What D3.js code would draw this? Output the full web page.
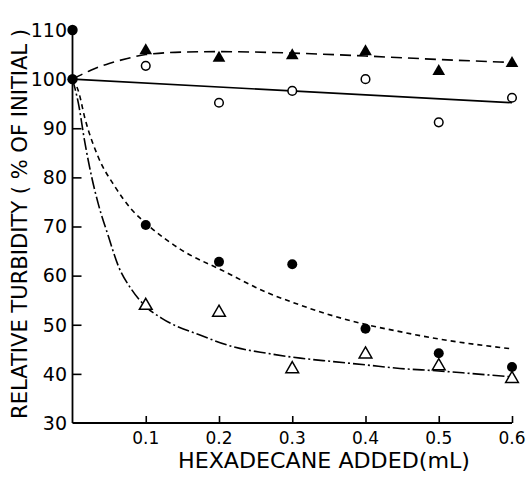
<!DOCTYPE html>
<html>
<head>
<meta charset="utf-8">
<script src="https://cdn.jsdelivr.net/npm/d3@7"></script>
<style>
  body { margin: 0; background: #fff; }
  text { font-family: "DejaVu Sans", sans-serif; fill: #000; }
</style>
</head>
<body>
<svg id="chart" width="527" height="477"></svg>
<script>
// data
const xTicks = [0.1, 0.2, 0.3, 0.4, 0.5, 0.6]
const yTicks = [30, 40, 50, 60, 70, 80, 90, 100, 110]
const hexX = [0.1, 0.2, 0.3, 0.4, 0.5, 0.6]

const filledTriangles = [105.8, 104.3, 104.8, 105.6, 101.6, 103.2]
const openCircles = [102.7, 95.2, 97.6, 100.0, 91.2, 96.2]
const filledCircles = [70.3, 62.8, 62.3, 49.2, 44.2, 41.4]
const openTriangles = [53.9, 52.5, 41.0, 44.0, 41.6, 39.0]
// points at zero addition
const zeroX = [0, 0]
const zeroCircles = [110, 100]

// fitted curves (drawn lines)
const upperCurveX = [0, 0.025, 0.05, 0.075, 0.1, 0.15, 0.2, 0.3, 0.4, 0.5, 0.6]
const upperCurveY = [100, 101.8, 103.2, 104.2, 105.0, 105.5, 105.6, 105.3, 104.7, 104.0, 103.4]
const straightX = [0, 0.6]
const straightY = [100, 95.2]
const shortDashX = [0, 0.008, 0.017, 0.035, 0.058, 0.081, 0.103, 0.149, 0.204, 0.265, 0.311, 0.356, 0.402, 0.447, 0.5, 0.55, 0.6]
const shortDashY = [100, 97.6, 92.0, 84.2, 78.1, 73.4, 70.3, 65.2, 61.1, 56.6, 54.0, 51.8, 50.0, 48.6, 47.1, 46.0, 45.1]
const dashDotX = [0, 0.008, 0.017, 0.026, 0.035, 0.049, 0.063, 0.081, 0.1, 0.122, 0.174, 0.22, 0.265, 0.311, 0.356, 0.402, 0.447, 0.5, 0.55, 0.6]
const dashDotY = [100, 95.1, 87.0, 80.2, 74.7, 68.0, 61.8, 57.1, 53.7, 51.3, 47.9, 45.5, 44.2, 43.2, 42.5, 41.8, 41.1, 40.6, 40.0, 39.4]

const svg = d3.select("#chart")

// scales
const x = d3.scaleLinear().domain([0, 0.6]).range([72.5, 512])
const y = d3.scaleLinear().domain([30, 110]).range([423, 30])

// y axis, ticks point inward
const yAxis = svg.append("g")
  .attr("transform", "translate(" + x(0) + ",0)")
  .call(d3.axisRight(y).tickValues(yTicks.slice(1, 7)).tickSize(9).tickFormat(""))
yAxis.select(".domain").remove()
yAxis.selectAll("line").attr("stroke-width", 1.6)
svg.append("line")
  .attr("x1", x(0)).attr("x2", x(0))
  .attr("y1", y(110)).attr("y2", y(30))
  .attr("stroke", "#000").attr("stroke-width", 1.8)

// x axis, ticks point up
const xAxis = svg.append("g")
  .attr("transform", "translate(0," + y(30) + ")")
  .call(d3.axisTop(x).tickValues(xTicks).tickSize(7).tickFormat(""))
xAxis.select(".domain").remove()
xAxis.selectAll("line").attr("stroke-width", 1.6)
svg.append("line")
  .attr("x1", x(0)).attr("x2", x(0.6))
  .attr("y1", y(30)).attr("y2", y(30))
  .attr("stroke", "#000").attr("stroke-width", 1.8)

// tick labels
svg.append("g").selectAll("text")
  .data(yTicks)
  .enter()
  .append("text")
  .attr("x", 67)
  .attr("y", d => y(d))
  .attr("dy", "0.36em")
  .attr("text-anchor", "end")
  .style("font-size", "19px")
  .text(d => d)

svg.append("g").selectAll("text")
  .data(xTicks)
  .enter()
  .append("text")
  .attr("x", d => x(d))
  .attr("y", 444)
  .attr("text-anchor", "middle")
  .style("font-size", "17px")
  .text(d => d)

// axis titles
svg.append("text")
  .attr("transform", "translate(27,224) rotate(-90)")
  .attr("text-anchor", "middle")
  .attr("textLength", 390)
  .attr("lengthAdjust", "spacingAndGlyphs")
  .style("font-size", "21px")
  .text("RELATIVE TURBIDITY ( % OF INITIAL )")

svg.append("text")
  .attr("x", 324)
  .attr("y", 468)
  .attr("text-anchor", "middle")
  .attr("textLength", 292)
  .attr("lengthAdjust", "spacingAndGlyphs")
  .style("font-size", "21px")
  .text("HEXADECANE ADDED(mL)")

// fitted lines
const line = d3.line().curve(d3.curveMonotoneX)
function drawCurve(xs, ys, dash) {
  svg.append("path")
    .attr("d", line(xs.map((v, i) => [x(v), y(ys[i])])))
    .attr("fill", "none")
    .attr("stroke", "#000")
    .attr("stroke-width", 1.6)
    .attr("stroke-dasharray", dash)
}
drawCurve(upperCurveX, upperCurveY, "11,6")
drawCurve(straightX, straightY, null)
drawCurve(shortDashX, shortDashY, "5,4")
drawCurve(dashDotX, dashDotY, "12,3,2,3")

// markers
const tri = d3.symbol().type(d3.symbolTriangle).size(70)

svg.append("g").selectAll("path")
  .data(hexX)
  .enter()
  .append("path")
  .attr("d", tri)
  .attr("transform", (d, i) => "translate(" + x(d) + "," + y(filledTriangles[i]) + ")")
  .attr("fill", "#000")

svg.append("g").selectAll("path")
  .data(hexX)
  .enter()
  .append("path")
  .attr("d", tri)
  .attr("transform", (d, i) => "translate(" + x(d) + "," + y(openTriangles[i]) + ")")
  .attr("fill", "#fff")
  .attr("stroke", "#000")
  .attr("stroke-width", 1.5)

svg.append("g").selectAll("circle")
  .data(hexX)
  .enter()
  .append("circle")
  .attr("cx", d => x(d))
  .attr("cy", (d, i) => y(openCircles[i]))
  .attr("r", 4.3)
  .attr("fill", "#fff")
  .attr("stroke", "#000")
  .attr("stroke-width", 1.5)

svg.append("g").selectAll("circle")
  .data(hexX)
  .enter()
  .append("circle")
  .attr("cx", d => x(d))
  .attr("cy", (d, i) => y(filledCircles[i]))
  .attr("r", 5)
  .attr("fill", "#000")

svg.append("g").selectAll("circle")
  .data(zeroX)
  .enter()
  .append("circle")
  .attr("cx", d => x(d))
  .attr("cy", (d, i) => y(zeroCircles[i]))
  .attr("r", 5.2)
  .attr("fill", "#000")
</script>
</body>
</html>
